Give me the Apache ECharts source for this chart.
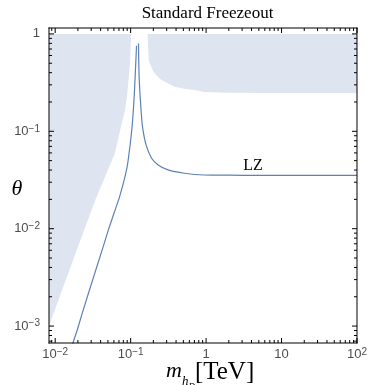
<!DOCTYPE html>
<html><head><meta charset="utf-8">
<script src="https://cdn.jsdelivr.net/npm/echarts@6/dist/echarts.min.js"></script>
<style>html,body{margin:0;padding:0;background:#fff}#c{width:370px;height:385px}</style>
</head><body><div id="c"></div>
<script>
// axis ranges
const xMin = 0.00828, xMax = 100, yMin = 0.00067, yMax = 1.15;
const xTickValues = [0.01, 0.1, 1, 10, 100];
const xTickLabels = ['{b|10}{s|\u22122}', '{b|10}{s|\u22121}', '{b|1}', '{b|10}', '{b|10}{s|2}'];
const yTickValues = [0.001, 0.01, 0.1, 1];
const yTickLabels = ['{b|10}{s|\u22123}', '{b|10}{s|\u22122}', '{b|10}{s|\u22121}', '{b|1}'];

// LZ curve, below the resonance
const lzLowMass  = [0.0165, 0.01717, 0.0196, 0.0228, 0.0313, 0.0432, 0.0506, 0.060, 0.0713, 0.0853, 0.0922, 0.104, 0.1117, 0.1197];
const lzLowTheta = [0.00060, 0.00067, 0.00091, 0.00135, 0.00296, 0.0065, 0.00966, 0.0143, 0.0212, 0.0356, 0.0489, 0.107, 0.236, 0.757];
// LZ curve, above the resonance
const lzHighMass  = [0.1271, 0.1298, 0.1379, 0.1447, 0.1602, 0.1895, 0.2317, 0.313, 0.516, 0.942, 2, 5, 20, 100];
const lzHighTheta = [0.799, 0.350, 0.159, 0.107, 0.0724, 0.0529, 0.0451, 0.0401, 0.0371, 0.0356, 0.0354, 0.0353, 0.0353, 0.0353];

// XENON1T excluded region boundary (region lies to the left, up to theta = 1)
const xenonMass  = [0.1015, 0.0985, 0.0900, 0.0836, 0.0751, 0.0618, 0.0438, 0.0339, 0.0193, 0.01104, 0.00853, 0.00757];
const xenonTheta = [1, 0.522, 0.236, 0.160, 0.115, 0.0595, 0.0314, 0.0196, 0.00602, 0.00185, 0.00107, 0.00083];
const xenonCloseMass = 0.00757;

// upper-right excluded region boundary (region lies above, up to theta = 1)
const upperMass  = [0.168, 0.1717, 0.1753, 0.1995, 0.2204, 0.256, 0.3826, 0.516, 0.698, 0.942, 2, 10, 120];
const upperTheta = [1, 0.627, 0.519, 0.4125, 0.375, 0.336, 0.287, 0.274, 0.265, 0.253, 0.249, 0.248, 0.248];
const upperCloseMass = 120;

const lineColor = '#5E81B5';
const shadeColor = 'rgb(222,228,240)';
const labelFont = 'Liberation Sans, Arial, sans-serif';
const serif = 'Liberation Serif, Times New Roman, serif';

const xMinorTicks = [];
for (let k = -3; k <= 1; k++) for (let m = 2; m <= 9; m++) { const v = m * Math.pow(10, k); if (v > xMin && v < xMax) xMinorTicks.push(v); }
const yMinorTicks = [];
for (let k = -4; k <= 0; k++) for (let m = 2; m <= 9; m++) { const v = m * Math.pow(10, k); if (v > yMin && v < yMax) yMinorTicks.push(v); }

function fmt(values, labels) {
  return function (v) {
    for (let i = 0; i < values.length; i++) if (Math.abs(v - values[i]) / values[i] < 1e-6) return labels[i];
    return '';
  };
}
const labelRich = {
  b: { fontFamily: labelFont, fontSize: 13, lineHeight: 15, padding: [3, 0, 3, 0], color: '#4d4d4d' },
  s: { fontFamily: labelFont, fontSize: 10, lineHeight: 10, verticalAlign: 'top', color: '#4d4d4d' }
};

function polygonSeries(mass, theta, closeMass) {
  return {
    type: 'custom', coordinateSystem: 'cartesian2d', clip: true, silent: true, z: 1,
    data: mass.map((m, i) => [m, theta[i]]),
    renderItem: function (params, api) {
      if (params.dataIndex !== 0) return null;
      const pts = mass.map((m, i) => api.coord([m, theta[i]]));
      pts.push(api.coord([closeMass, 1]));
      return { type: 'polygon', shape: { points: pts }, style: { fill: shadeColor } };
    }
  };
}

function frameAndTicks(params, api) {
  const cs = params.coordSys;
  const L = cs.x, T = cs.y, R = cs.x + cs.width, B = cs.y + cs.height;
  const kids = [];
  const box = (x, y, w, h) => kids.push({ type: 'rect', shape: { x: x, y: y, width: w, height: h }, style: { fill: '#000' } });
  // frame
  box(L - 0.5, T - 0.5, R - L + 1, 1);
  box(L - 0.5, B - 0.5, R - L + 1, 1);
  box(L - 0.5, T - 0.5, 1, B - T + 1);
  box(R - 0.5, T - 0.5, 1, B - T + 1);
  const xt = (v, len) => { const px = api.coord([v, 0.1])[0]; box(px - 0.5, B - len, 1, len); box(px - 0.5, T, 1, len); };
  const yt = (v, len) => { const py = api.coord([1, v])[1]; box(L, py - 0.5, len, 1); box(R - len, py - 0.5, len, 1); };
  xTickValues.forEach(v => xt(v, 5));
  xMinorTicks.forEach(v => xt(v, 3));
  yTickValues.forEach(v => yt(v, 5));
  yMinorTicks.forEach(v => yt(v, 3));
  return { type: 'group', children: kids };
}

const axisCommon = {
  type: 'log', logBase: 10,
  axisLine: { show: false },
  axisTick: { show: false },
  splitLine: { show: false },
  minorTick: { show: false }
};

const option = {
  animation: false,
  backgroundColor: '#fff',
  grid: { left: 49, right: 8, top: 28, bottom: 42 },
  xAxis: Object.assign({}, axisCommon, { min: xMin, max: xMax,
    axisLabel: { show: true, formatter: fmt(xTickValues, xTickLabels), rich: labelRich, margin: 4 } }),
  yAxis: Object.assign({}, axisCommon, { min: yMin, max: yMax,
    axisLabel: { show: true, formatter: fmt(yTickValues, yTickLabels), rich: labelRich, margin: 9 } }),
  graphic: [
    { type: 'text', x: 207.5, y: 14, style: { text: 'Standard Freezeout', font: '17px ' + serif, fill: '#000', align: 'center', verticalAlign: 'middle' } },
    { type: 'text', x: 87.5, y: 113.5, rotation: 72 * Math.PI / 180, style: { text: 'XENON1T', font: 'italic 16px ' + serif, fill: '#000', align: 'center', verticalAlign: 'middle' } },
    { type: 'text', x: 253, y: 165.5, style: { text: 'LZ', font: '16px ' + serif, fill: '#000', align: 'center', verticalAlign: 'middle' } },
    { type: 'text', x: 17, y: 189, style: { text: '\u03B8', font: 'italic 22px ' + serif, fill: '#000', align: 'center', verticalAlign: 'middle' } },
    { type: 'text', x: 166, y: 360, style: {
      text: '{m|m}{h|h}{d|D}{t|[TeV]}', align: 'left', verticalAlign: 'top',
      rich: {
        m: { fontFamily: serif, fontStyle: 'italic', fontSize: 22, lineHeight: 26, verticalAlign: 'top', fill: '#000' },
        h: { fontFamily: serif, fontStyle: 'italic', fontSize: 13, lineHeight: 16, verticalAlign: 'top', padding: [15, 0, 0, 0], fill: '#000' },
        d: { fontFamily: serif, fontStyle: 'italic', fontSize: 9, lineHeight: 12, verticalAlign: 'top', padding: [22, 0, 0, 0], fill: '#000' },
        t: { fontFamily: serif, fontSize: 25, lineHeight: 26, verticalAlign: 'top', fill: '#000' }
      } } }
  ],
  series: [
    polygonSeries(xenonMass, xenonTheta, xenonCloseMass),
    polygonSeries(upperMass, upperTheta, upperCloseMass),
    { type: 'line', data: lzLowMass.map((m, i) => [m, lzLowTheta[i]]), showSymbol: false, smooth: 0.3, clip: true, z: 3,
      lineStyle: { color: lineColor, width: 1.2 }, silent: true },
    { type: 'line', data: lzHighMass.map((m, i) => [m, lzHighTheta[i]]), showSymbol: false, smooth: 0.3, clip: true, z: 3,
      lineStyle: { color: lineColor, width: 1.2 }, silent: true },
    { type: 'custom', coordinateSystem: 'cartesian2d', silent: true, clip: false, z: 10,
      data: [[1, 0.1]], renderItem: frameAndTicks }
  ]
};
const chart = echarts.init(document.getElementById('c'), null, { renderer: 'canvas' });
chart.setOption(option);
</script>
</body></html>
